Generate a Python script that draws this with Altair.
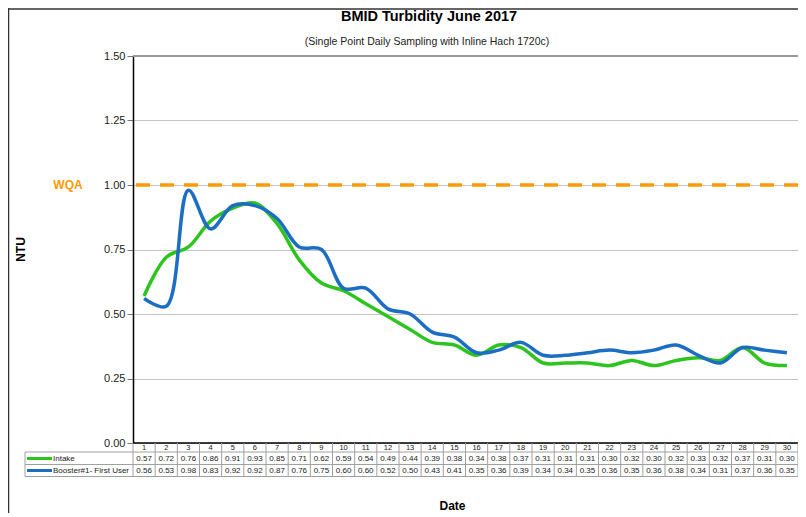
import altair as alt
import pandas as pd

days = list(range(1, 31))
intake = [0.57, 0.72, 0.76, 0.86, 0.91, 0.93, 0.85, 0.71, 0.62, 0.59, 0.54, 0.49, 0.44, 0.39, 0.38,
          0.34, 0.38, 0.37, 0.31, 0.31, 0.31, 0.30, 0.32, 0.30, 0.32, 0.33, 0.32, 0.37, 0.31, 0.30]
booster = [0.56, 0.53, 0.98, 0.83, 0.92, 0.92, 0.87, 0.76, 0.75, 0.60, 0.60, 0.52, 0.50, 0.43, 0.41,
           0.35, 0.36, 0.39, 0.34, 0.34, 0.35, 0.36, 0.35, 0.36, 0.38, 0.34, 0.31, 0.37, 0.36, 0.35]
series_names = ["Intake", "Booster#1- First User"]
series_colors = ["#2DC41F", "#1B6EC2"]
wqa_value = 1.0
y_ticks = [0.0, 0.25, 0.5, 0.75, 1.0, 1.25, 1.5]
title_text = "BMID Turbidity June 2017"
subtitle_text = "(Single Point Daily Sampling with Inline Hach 1720c)"

FONT = "Liberation Sans"
W, H = 665, 387

long = pd.DataFrame({
    "day": days * 2,
    "value": intake + booster,
    "series": [series_names[0]] * 30 + [series_names[1]] * 30,
})
wide = pd.DataFrame({"day": days, "intake": [f"{v:.2f}" for v in intake],
                     "booster": [f"{v:.2f}" for v in booster]})
edges = pd.DataFrame({"edge": [d - 0.5 for d in days] + [30.5]})

xscale = alt.Scale(domain=[0.5, 30.5], nice=False, zero=False)
yscale = alt.Scale(domain=[0, 1.5], nice=False)

lines = alt.Chart(long).mark_line(interpolate="catmull-rom", strokeWidth=3.5).encode(
    x=alt.X("day:Q", scale=xscale,
            axis=alt.Axis(labels=False, ticks=False, domain=False, grid=False, title="Date",
                          titleFont=FONT, titleFontSize=12, titleFontWeight="bold", titleColor="#000",
                          titleX=319, titleY=62, titleBaseline="middle", titleAlign="center")),
    y=alt.Y("value:Q", scale=yscale,
            axis=alt.Axis(values=y_ticks, format=".2f", title="NTU", labelFont=FONT, labelFontSize=11,
                          labelColor="#222", tickSize=6, tickColor="#777", labelPadding=2,
                          domainColor="#000", domainWidth=1.5, gridColor="#c4c4c4", gridWidth=1.2,
                          titleFont=FONT, titleFontSize=12, titleFontWeight="bold", titleColor="#000",
                          titleX=-113, titleY=193, titleAngle=270, titleAlign="center",
                          titleBaseline="middle")),
    color=alt.Color("series:N", scale=alt.Scale(domain=series_names, range=series_colors), legend=None),
    detail="series:N",
)

base1 = alt.Chart(pd.DataFrame({"v": [wqa_value]}))
wqa_line = base1.mark_rule(color="#FF9900", strokeWidth=3.5, strokeDash=[14, 10]).encode(y="v:Q")
wqa_text = base1.mark_text(text="WQA", font=FONT, fontSize=12, fontWeight="bold", color="#FF9900",
                           align="center", baseline="middle").encode(y="v:Q", x=alt.value(-65))

top_line = alt.Chart(pd.DataFrame({"v": [1.5]})).mark_rule(color="#9a9a9a", strokeWidth=2).encode(y="v:Q")
bottom_line = alt.Chart(pd.DataFrame({"v": [0.0]})).mark_rule(color="#000", strokeWidth=1.5).encode(y="v:Q")

# Table
grid_col = "#a0a0a0"
vlines = alt.Chart(edges).mark_rule(color=grid_col, strokeWidth=1).encode(
    x=alt.X("edge:Q", scale=xscale), y=alt.value(H), y2=alt.value(H + 33.5))
hlines = []
for yy in [H + 9, H + 21.5, H + 33.5]:
    hlines.append(alt.Chart(pd.DataFrame({"a": [0]})).mark_rule(color=grid_col, strokeWidth=1).encode(
        x=alt.value(-108), x2=alt.value(W), y=alt.value(yy)))
legend_left = alt.Chart(pd.DataFrame({"a": [0]})).mark_rule(color=grid_col, strokeWidth=1).encode(
    x=alt.value(-108), y=alt.value(H + 9), y2=alt.value(H + 33.5))

tbl = alt.Chart(wide)
day_txt = tbl.mark_text(font=FONT, fontSize=7.5, color="#222", baseline="middle").encode(
    x=alt.X("day:Q", scale=xscale), y=alt.value(H + 4.5), text="day:Q")
int_txt = tbl.mark_text(font=FONT, fontSize=8, color="#222", baseline="middle").encode(
    x=alt.X("day:Q", scale=xscale), y=alt.value(H + 15.5), text="intake:N")
boo_txt = tbl.mark_text(font=FONT, fontSize=8, color="#222", baseline="middle").encode(
    x=alt.X("day:Q", scale=xscale), y=alt.value(H + 27.5), text="booster:N")

leg_layers = []
for i, (nm, col) in enumerate(zip(series_names, series_colors)):
    yy = H + 15.5 + 12 * i
    one = alt.Chart(pd.DataFrame({"name": [nm]}))
    leg_layers.append(one.mark_rule(color=col, strokeWidth=3).encode(
        x=alt.value(-106), x2=alt.value(-81), y=alt.value(yy)))
    leg_layers.append(one.mark_text(font=FONT, fontSize=8, color="#222", align="left",
                                    baseline="middle").encode(x=alt.value(-80), y=alt.value(yy), text="name:N"))

# Titles
t1 = alt.Chart(pd.DataFrame({"t": [title_text]})).mark_text(
    font=FONT, fontSize=14.5, fontWeight="bold", color="#000", baseline="middle").encode(
    x=alt.value(296), y=alt.value(-39.5), text="t:N")
t2 = alt.Chart(pd.DataFrame({"t": [subtitle_text]})).mark_text(
    font=FONT, fontSize=10.5, color="#222", baseline="middle").encode(
    x=alt.value(294), y=alt.value(-14), text="t:N")

# Outer frame
frame_top = alt.Chart(pd.DataFrame({"a": [0]})).mark_rule(color="#333", strokeWidth=1.5).encode(
    x=alt.value(-125), x2=alt.value(W), y=alt.value(-47))
frame_left = alt.Chart(pd.DataFrame({"a": [0]})).mark_rule(color="#333", strokeWidth=1.5).encode(
    x=alt.value(-124.5), y=alt.value(-48), y2=alt.value(H + 70))

chart = alt.layer(
    top_line, lines, wqa_line, wqa_text, bottom_line,
    vlines, *hlines, legend_left, day_txt, int_txt, boo_txt, *leg_layers,
    t1, t2, frame_top, frame_left,
).properties(
    width=W, height=H,
    autosize=alt.AutoSizeParams(type="none"),
    padding={"left": 125, "top": 48, "right": 0, "bottom": 70},
    background="white",
).configure_view(stroke=None)

chart.save("out.html", embed_options={"renderer": "svg", "actions": False})
